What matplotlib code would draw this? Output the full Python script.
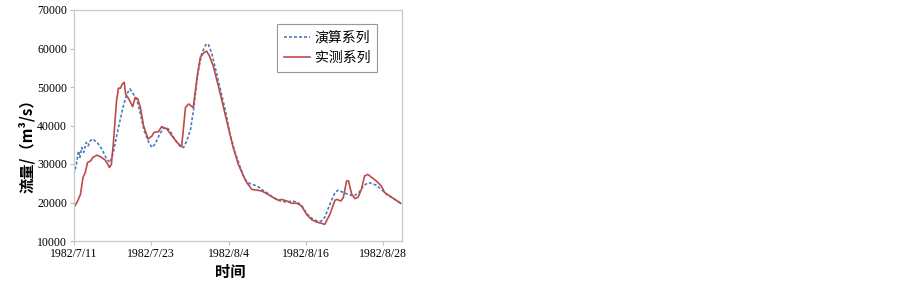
import matplotlib
matplotlib.use("Agg")
import matplotlib.pyplot as plt

plt.rcParams['font.family'] = ['Liberation Serif', 'Noto Sans CJK SC']

# days since 1982/7/11
meas_x = [0, 0.57, 1.0, 1.4, 1.75, 2.1, 2.6, 2.9, 3.6, 4.3, 4.85, 5.4, 5.5, 5.8, 6.1, 6.6, 6.9, 7.2,
          7.5, 7.8, 8.0, 8.5, 9.1, 9.5, 9.9, 10.3, 10.8, 11.5, 12.1, 12.4, 13.1, 13.6, 14.4, 15.2,
          16.0, 16.7, 16.9, 17.3, 17.8, 18.3, 18.5, 19.1, 19.6, 20.2, 20.6, 21.0, 21.6, 22.4, 23.2,
          24.0, 24.7, 25.5, 26.3, 26.8, 27.6, 28.4, 29.1, 29.9, 30.9, 31.7, 32.2, 33.0, 33.8, 34.6,
          35.3, 36.1, 36.9, 37.7, 38.4, 38.9, 39.7, 40.5, 40.8, 41.4, 41.8, 42.3, 42.6, 43.1, 43.6,
          44.1, 44.6, 45.1, 45.6, 46.2, 46.9, 47.7, 48.2, 49.0, 49.8, 50.7]
meas_y = [18700, 20400, 22100, 26500, 27800, 30400, 30800, 31700, 32300, 31700, 31000, 29500, 29100,
          29900, 35200, 46400, 49700, 49700, 50800, 51200, 48200, 46900, 44900, 47300, 46900, 44700,
          39900, 36500, 37300, 38200, 38400, 39700, 39100, 37300, 35600, 34500, 37800, 44700, 45600,
          44900, 44700, 52500, 57700, 59000, 59300, 58100, 55500, 50300, 44700, 39100, 34300, 29900,
          26900, 25200, 23400, 23200, 23000, 22300, 21300, 20600, 20800, 20400, 19800, 19800, 19100,
          16900, 15500, 14900, 14600, 14300, 16900, 20600, 20800, 20400, 21300, 25600, 25600, 22100,
          21000, 21400, 23400, 26900, 27300, 26500, 25600, 24300, 22600, 21700, 20800, 19800]

sim_x = [0, 0.36, 0.7, 0.9, 1.2, 1.5, 1.9, 2.2, 2.5, 2.9, 3.6, 4.3, 5.1, 5.6, 6.1, 6.9, 7.6, 8.2,
         8.7, 9.2, 9.8, 10.3, 10.9, 11.6, 12.1, 12.6, 13.3, 13.9, 14.4, 14.9, 15.7, 16.5, 17.0, 17.5,
         18.1, 18.6, 19.2, 19.8, 20.5, 20.9, 21.4, 21.9, 22.7, 23.5, 24.2, 25.0, 25.8, 26.5, 27.3,
         28.4, 29.1, 29.9, 30.9, 32.0, 33.0, 33.8, 34.6, 35.3, 36.1, 36.9, 37.7, 38.4, 38.9, 39.7,
         40.5, 41.0, 41.8, 42.6, 43.3, 44.1, 44.9, 45.7, 46.2, 46.9, 47.7, 48.5, 49.5, 50.7]
sim_y = [27300, 29900, 33400, 31700, 34300, 33000, 35600, 34700, 36000, 36500, 35600, 33900, 31200,
         30400, 33000, 39500, 44700, 48200, 49500, 48200, 46400, 43000, 38600, 35600, 34300, 35200,
         37800, 39300, 39500, 38600, 36200, 34500, 34300, 36000, 39100, 44700, 53400, 58600, 61200,
         60900, 58600, 55100, 49500, 43800, 37800, 33000, 29100, 26000, 24900, 24300, 23400, 22600,
         21300, 20400, 20100, 20400, 20100, 19300, 17100, 15900, 15200, 15200, 16100, 19500, 22600,
         23200, 22600, 22100, 21700, 22300, 24300, 25200, 24900, 24500, 23400, 22100, 21100, 19800]

tick_pos = [0, 12, 24, 36, 48]
tick_labels = ['1982/7/11', '1982/7/23', '1982/8/4', '1982/8/16', '1982/8/28']
y_ticks = [10000, 20000, 30000, 40000, 50000, 60000, 70000]

fig = plt.figure(figsize=(9.03, 2.84), dpi=100)
ax = fig.add_axes([74/903, 1-241/284, (402-74)/903, (241-10)/284])

ax.plot(sim_x, sim_y, color='#4a7ebb', lw=1.2, ls=(0, (1.8, 1.2)), label='演算系列')
ax.plot(meas_x, meas_y, color='#be4b48', lw=1.2, label='实测系列')

ax.set_xlim(0, 50.9)
ax.set_ylim(10000, 70000)
ax.set_xticks(tick_pos)
ax.set_xticklabels(tick_labels)
ax.set_yticks(y_ticks)
ax.set_yticklabels([str(v) for v in y_ticks])
ax.tick_params(axis='both', labelsize=8.5, color='#bfbfbf', length=3, width=0.8, pad=2)
for s in ax.spines.values():
    s.set_color('#c8c8c8')
    s.set_linewidth(0.9)

ax.set_xlabel('时间', family=['Noto Sans CJK SC'], fontsize=11, fontweight='bold')
ax.xaxis.set_label_coords((230-74)/328, -(272-241)/231)
ax.set_ylabel('流量/（m³/s）', family=['Noto Sans CJK SC', 'DejaVu Sans'], fontsize=11,
              fontweight='bold')
ax.yaxis.set_label_coords(-(74-27)/328, (241-142)/231)
ax.yaxis.label.set_verticalalignment('center')
ax.xaxis.label.set_verticalalignment('center')

leg = ax.legend(loc='upper right', bbox_to_anchor=((377-74)/328, (241-24)/231),
                prop={'family': 'Noto Sans CJK SC', 'size': 10},
                frameon=True, fancybox=False, edgecolor='#7f7f7f', handlelength=1.9,
                handletextpad=0.3, borderpad=0.5, labelspacing=0.45, borderaxespad=0)
leg.get_frame().set_linewidth(0.8)

fig.savefig('out.png', dpi=100)
